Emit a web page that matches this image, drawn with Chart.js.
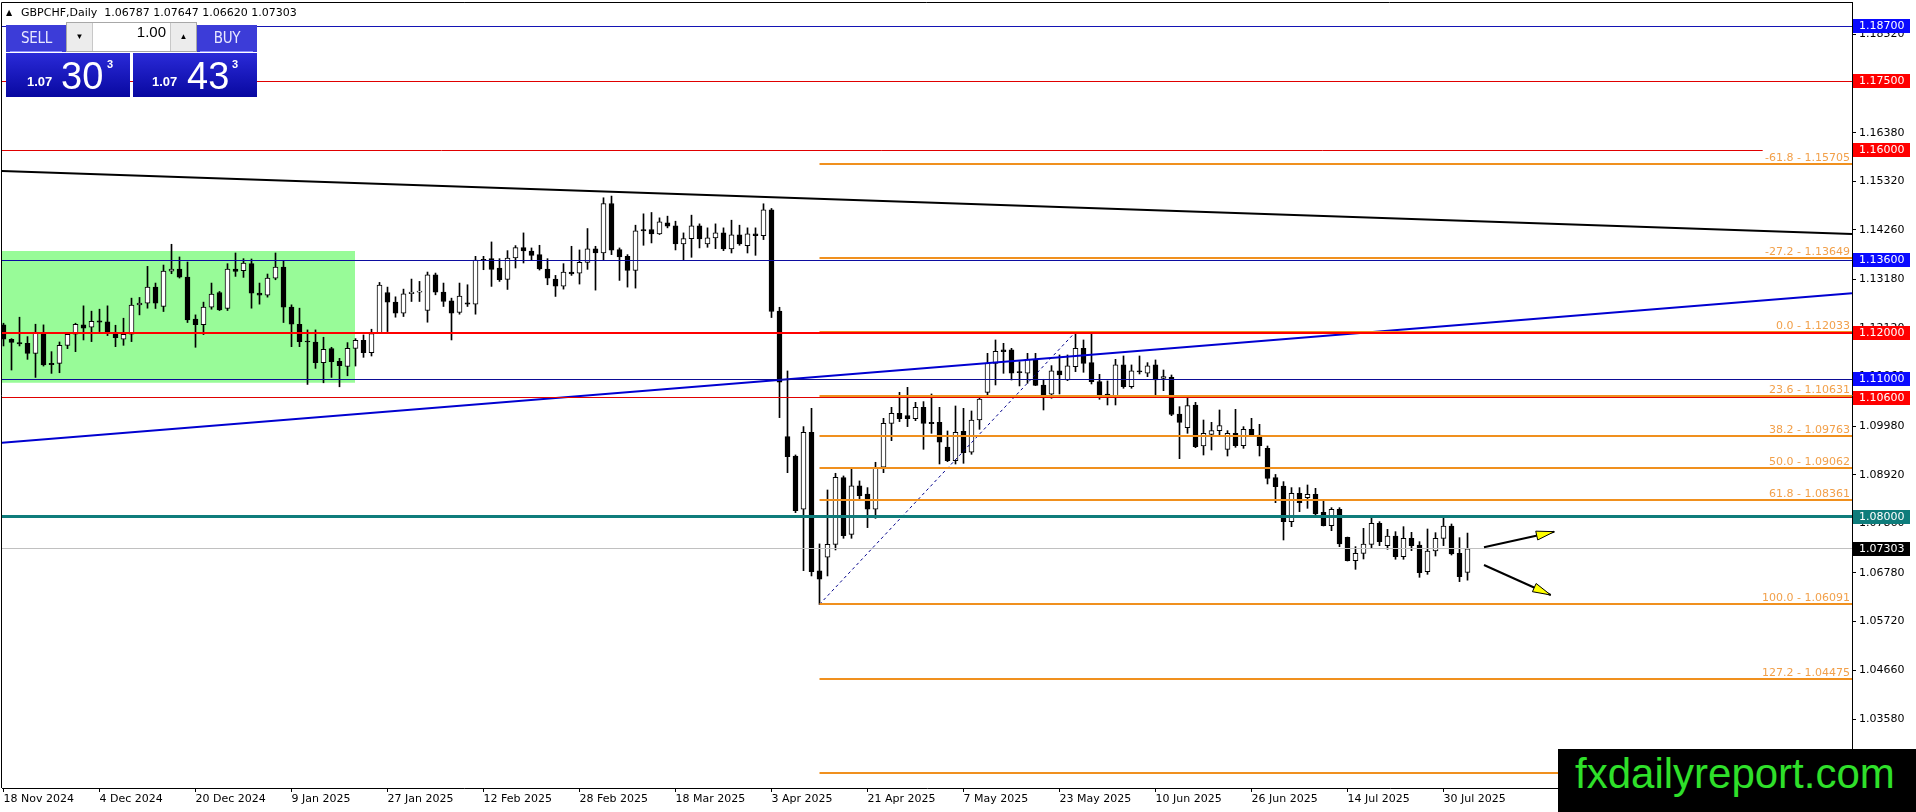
<!DOCTYPE html>
<html><head><meta charset="utf-8">
<script src="https://cdn.jsdelivr.net/npm/chart.js@4.4.1/dist/chart.umd.min.js"></script>
<style>
html,body{margin:0;padding:0;background:#fff;overflow:hidden;width:1916px;height:812px;}
#wrap{position:relative;width:1916px;height:812px;}
canvas{position:absolute;left:0;top:0;}
.abs{position:absolute;box-sizing:border-box;}
#hdr{left:6px;top:6px;font:11px "DejaVu Sans",sans-serif;line-height:13px;color:#000;white-space:pre;}
#hdr .tri{font-size:8px;display:inline-block;width:15px;vertical-align:1px;}
.topblue{background:#3c3cd8;color:#e8e8ff;font:15px "DejaVu Sans Condensed","DejaVu Sans",sans-serif;letter-spacing:-0.3px;text-align:center;line-height:27px;}
.uline{height:1px;background:#8c8cff;}
.botblue{background:linear-gradient(#2a2ad8,#0808a0);color:#fff;}
.small{position:absolute;font:bold 13px "Liberation Sans",sans-serif;}
.big{position:absolute;font:38px "Liberation Sans",sans-serif;line-height:38px;}
.sup{position:absolute;font:bold 11px "Liberation Sans",sans-serif;}
#ctrl{left:66px;top:22px;width:131px;height:30px;background:#fff;border:1px solid #a8a8a8;}
.btn{position:absolute;top:0;height:28px;width:25px;background:#ececec;border-right:1px solid #c8c8c8;font-size:8px;text-align:center;line-height:28px;color:#000;}
#qty{position:absolute;right:30px;top:0;line-height:28px;font:15px "Liberation Sans",sans-serif;color:#000;}
#wm{left:1558px;top:749px;width:358px;height:63px;background:#000;color:#2fe02a;font:42px "Liberation Sans",sans-serif;line-height:50px;padding-left:17px;white-space:nowrap;}
</style></head><body>
<div id="wrap">
<canvas id="c" width="1916" height="812"></canvas>
<div id="hdr" class="abs"><span class="tri">▲</span>GBPCHF,Daily  1.06787 1.07647 1.06620 1.07303</div>

<div class="abs topblue" style="left:6px;top:25px;width:61px;height:27px;">SELL</div>
<div class="abs uline" style="left:10px;top:51px;width:52px;"></div>
<div class="abs topblue" style="left:197px;top:25px;width:60px;height:27px;">BUY</div>
<div class="abs uline" style="left:200px;top:51px;width:53px;"></div>
<div id="ctrl" class="abs">
  <div class="btn" style="left:0;">▼</div>
  <div id="qty">1.00</div>
  <div class="btn" style="right:0;border-right:none;border-left:1px solid #c8c8c8;">▲</div>
</div>
<div class="abs botblue" style="left:6px;top:53px;width:124px;height:44px;">
  <span class="small" style="left:21px;top:21px;">1.07</span>
  <span class="big" style="left:55px;top:4px;">30</span>
  <span class="sup" style="left:101px;top:5px;">3</span>
</div>
<div class="abs botblue" style="left:133px;top:53px;width:124px;height:44px;">
  <span class="small" style="left:19px;top:21px;">1.07</span>
  <span class="big" style="left:54px;top:4px;">43</span>
  <span class="sup" style="left:99px;top:5px;">3</span>
</div>
<div id="wm" class="abs">fxdailyreport.com</div>
</div>
<script>
// ---------- DATA ----------
const xTickIdx = [0,12,24,36,48,60,72,84,96,108,120,132,144,156,168,180];
const xTickLabels = ["18 Nov 2024","4 Dec 2024","20 Dec 2024","9 Jan 2025","27 Jan 2025","12 Feb 2025","28 Feb 2025","18 Mar 2025","3 Apr 2025","21 Apr 2025","7 May 2025","23 May 2025","10 Jun 2025","26 Jun 2025","14 Jul 2025","30 Jul 2025"];
const yTicks = [1.18520,1.17460,1.16380,1.15320,1.14260,1.13180,1.12120,1.11060,1.09980,1.08920,1.07860,1.06780,1.05720,1.04660,1.03580,1.02520];

const opens = [1.12188,1.11874,1.11801,1.11786,1.11567,1.12005,1.11348,1.11348,1.11742,1.11983,
1.12188,1.12137,1.12275,1.12253,1.12020,1.11874,1.11983,1.12625,1.12662,1.13012,
1.12589,1.13362,1.13406,1.13231,1.12312,1.12195,1.12574,1.12895,1.12545,1.13406,
1.13369,1.13523,1.12881,1.12837,1.13209,1.13450,1.12574,1.12202,1.11837,1.11815,
1.11363,1.11670,1.11392,1.11283,1.11677,1.11852,1.11582,1.11998,1.12895,1.12684,
1.12443,1.12866,1.12903,1.12501,1.13282,1.12903,1.12713,1.12458,1.12669,1.12640,
1.13618,1.13632,1.13428,1.13180,1.13647,1.13873,1.13800,1.13720,1.13406,1.13187,
1.13034,1.13340,1.13318,1.13552,1.13844,1.13756,1.14836,1.13829,1.13683,1.13377,
1.14267,1.14267,1.14172,1.14413,1.14347,1.13953,1.14070,1.14347,1.13953,1.14085,
1.14194,1.13844,1.14150,1.13917,1.14172,1.14136,1.14697,1.12491,1.09750,1.09329,
1.08166,1.09845,1.06821,1.07119,1.07402,1.08857,1.07620,1.08675,1.08500,1.08166,
1.09082,1.10041,1.10259,1.10208,1.10143,1.10390,1.10063,1.10063,1.09525,1.09227,
1.09867,1.09409,1.10114,1.10717,1.11350,1.11641,1.11641,1.11168,1.11132,1.11437,
1.10877,1.10674,1.11183,1.10986,1.11277,1.11677,1.11364,1.10950,1.10681,1.10608,
1.11314,1.10841,1.11183,1.11132,1.11314,1.11022,1.11044,1.10244,1.09946,1.10441,
1.09546,1.09801,1.09881,1.09474,1.09823,1.09554,1.09910,1.09786,1.09495,1.08856,
1.08674,1.07896,1.08514,1.08420,1.08492,1.08100,1.07809,1.08165,1.07554,1.07045,
1.07206,1.07402,1.07860,1.07373,1.07584,1.07133,1.07533,1.07387,1.06806,1.07257,
1.07533,1.07802,1.07206,1.06787];
const highs = [1.12224,1.11888,1.12355,1.11932,1.12202,1.12188,1.11604,1.11815,1.12020,1.12224,
1.12603,1.12487,1.12530,1.12603,1.12180,1.12333,1.12771,1.12786,1.13464,1.13100,
1.13493,1.13946,1.13669,1.13559,1.12406,1.12684,1.13100,1.12917,1.13523,1.13756,
1.13632,1.13625,1.13100,1.13297,1.13756,1.13588,1.12625,1.12552,1.12078,1.12078,
1.11918,1.11699,1.11458,1.11801,1.11888,1.11969,1.12093,1.13114,1.13012,1.12800,
1.12968,1.13187,1.13136,1.13340,1.13318,1.13100,1.12771,1.13100,1.13063,1.13683,
1.13683,1.13997,1.13632,1.13807,1.13917,1.14194,1.13866,1.13924,1.13632,1.13267,
1.13523,1.13902,1.13822,1.14289,1.13902,1.14960,1.14997,1.13866,1.13720,1.14362,
1.14610,1.14639,1.14522,1.14559,1.14449,1.14194,1.14581,1.14391,1.14304,1.14391,
1.14304,1.14471,1.14362,1.14304,1.14304,1.14829,1.14727,1.12572,1.11183,1.09351,
1.09969,1.10368,1.07410,1.08587,1.08951,1.08893,1.09074,1.08784,1.08638,1.09191,
1.10150,1.10390,1.10717,1.10826,1.10499,1.10514,1.10681,1.10390,1.09874,1.10419,
1.10368,1.10310,1.10637,1.11568,1.11859,1.11786,1.11677,1.11386,1.11568,1.11568,
1.11001,1.11299,1.11532,1.11532,1.12033,1.11859,1.11990,1.11110,1.10965,1.11437,
1.11510,1.11314,1.11510,1.11364,1.11423,1.11204,1.11095,1.10404,1.10586,1.10499,
1.10113,1.10063,1.10332,1.09881,1.10346,1.09968,1.10150,1.10019,1.09546,1.08926,
1.08769,1.08638,1.08638,1.08696,1.08623,1.08369,1.08201,1.08201,1.07560,1.07351,
1.07751,1.08027,1.07896,1.07729,1.07678,1.07787,1.07663,1.07460,1.07736,1.07656,
1.07983,1.07845,1.07547,1.07647];
const lows = [1.11728,1.11203,1.11728,1.11436,1.11042,1.11290,1.11130,1.11144,1.11670,1.11604,
1.11859,1.11823,1.12042,1.11954,1.11713,1.11742,1.11823,1.12406,1.12552,1.12545,
1.12479,1.13304,1.13209,1.12239,1.11699,1.11976,1.12530,1.12501,1.12501,1.13245,
1.13224,1.12552,1.12640,1.12793,1.13172,1.12239,1.11713,1.11713,1.10889,1.11239,
1.10925,1.11042,1.10838,1.11078,1.11290,1.11480,1.11509,1.11998,1.12042,1.12355,
1.12370,1.12698,1.12698,1.12246,1.12844,1.12589,1.11859,1.12421,1.12589,1.12421,
1.13391,1.13027,1.13136,1.12961,1.13428,1.13538,1.13610,1.13384,1.13063,1.12808,
1.12968,1.13267,1.13078,1.13399,1.12946,1.13588,1.13720,1.13158,1.13012,1.12990,
1.13924,1.13975,1.14158,1.14304,1.13822,1.13610,1.13662,1.13866,1.13880,1.13851,
1.13807,1.13756,1.13924,1.13756,1.13705,1.14048,1.12348,1.10165,1.08965,1.08093,
1.06828,1.06712,1.06091,1.06712,1.07279,1.07533,1.07533,1.08369,1.07766,1.07969,
1.08965,1.09663,1.10078,1.09969,1.10099,1.09474,1.09823,1.09154,1.09205,1.09154,
1.09169,1.09365,1.09910,1.10623,1.10877,1.11132,1.10986,1.10856,1.10914,1.10863,
1.10332,1.10587,1.10681,1.10972,1.11168,1.11154,1.10899,1.10565,1.10441,1.10441,
1.10805,1.10805,1.11117,1.11059,1.10637,1.10753,1.10208,1.09270,1.09823,1.09510,
1.09350,1.09459,1.09786,1.09328,1.09517,1.09495,1.09764,1.09328,1.08718,1.08310,
1.07496,1.07787,1.08114,1.08187,1.07991,1.07802,1.07700,1.07351,1.07038,1.06856,
1.07082,1.07329,1.07373,1.07293,1.07075,1.07075,1.07264,1.06682,1.06747,1.07147,
1.07373,1.07169,1.06588,1.06620];
const closes = [1.11874,1.11808,1.11772,1.11567,1.12005,1.11312,1.11319,1.11742,1.11983,1.12202,
1.12115,1.12268,1.12246,1.12020,1.11910,1.11983,1.12618,1.12662,1.13012,1.12662,
1.13362,1.13406,1.13231,1.12297,1.12195,1.12574,1.12859,1.12516,1.13406,1.13355,
1.13537,1.12881,1.12837,1.13209,1.13450,1.12574,1.12202,1.11823,1.11815,1.11363,
1.11655,1.11385,1.11297,1.11677,1.11852,1.11582,1.11998,1.13056,1.12684,1.12443,
1.12866,1.12903,1.12910,1.13282,1.12903,1.12698,1.12443,1.12815,1.12640,1.13603,
1.13596,1.13399,1.13172,1.13647,1.13873,1.13800,1.13705,1.13406,1.13209,1.13034,
1.13340,1.13297,1.13552,1.13844,1.13756,1.14836,1.13815,1.13669,1.13377,1.14238,
1.14238,1.14172,1.14435,1.14340,1.13953,1.14070,1.14347,1.14063,1.14085,1.14194,
1.13844,1.14150,1.13953,1.14172,1.14136,1.14697,1.12480,1.10936,1.09314,1.08137,
1.09845,1.06806,1.06639,1.07402,1.08864,1.07591,1.08675,1.08464,1.08166,1.09082,
1.10041,1.10259,1.10143,1.10143,1.10390,1.10041,1.10034,1.09627,1.09227,1.09845,
1.09401,1.10114,1.10572,1.11350,1.11612,1.11604,1.11132,1.11146,1.11437,1.10870,
1.10659,1.11183,1.11096,1.11292,1.11677,1.11350,1.10950,1.10623,1.10601,1.11314,
1.10841,1.11183,1.11161,1.11292,1.10986,1.11058,1.10237,1.10063,1.10426,1.09532,
1.09823,1.09881,1.09990,1.09823,1.09554,1.09910,1.09786,1.09554,1.08841,1.08659,
1.07896,1.08514,1.08310,1.08492,1.08063,1.07809,1.08165,1.07409,1.07045,1.07206,
1.07409,1.07860,1.07460,1.07584,1.07133,1.07533,1.07373,1.06784,1.07257,1.07533,
1.07802,1.07191,1.06697,1.07303];

// horizontal levels (price) and axis markers
const hLevels = [1.18700,1.17500,1.16000,1.13600,1.12000,1.11000,1.10600,1.08000];
const bidPrice = 1.07303;
// fibonacci retracement (anchor bars and prices)
const fibAnchorIdx = [102,134];
const fibAnchorPrice = [1.06091,1.12033];
const fibNames = ["-61.8","-27.2","0.0","23.6","38.2","50.0","61.8","100.0","127.2","161.8"];
const fibLevels = [1.15705,1.13649,1.12033,1.10631,1.09763,1.09062,1.08361,1.06091,1.04475,1.02419];
// trend lines: [idx0, price0, idx1, price1]
const trendBlack = [-0.44,1.15544,231.06,1.14170];
const trendBlue = [-0.44,1.09612,231.06,1.12877];
// range box: [idx0, idx1, priceTop, priceBottom]
const rangeBox = [-2,43.94,1.13800,1.10927];
// arrows: [idxFrom, priceFrom, idxTo, priceTo]
const arrowUp = [185.06,1.07337,193.85,1.07678];
const arrowDown = [185.06,1.06951,193.40,1.06297];
const redLineEndIdx = 219.9;

// ---------- STYLE ----------
const hStyles = [
 {c:'#1414b4',w:1},{c:'#e00000',w:1},{c:'#e00000',w:1},{c:'#0c0ca0',w:1},
 {c:'#ff0000',w:2},{c:'#0c0c96',w:1},{c:'#e00000',w:1},{c:'#0e7c7b',w:3}];
const boxColors = ['#0a0aff','#ff0000','#ff0000','#0a0aff','#ff0000','#0a0aff','#ff0000','#0e7c7b'];
const FIB_LINE = '#f0901e', FIB_TEXT = '#f2a04a';
const X_MIN = -0.1875, X_MAX = X_MIN + 1850/8;
const Y_MIN = 1.02087, Y_MAX = 1.19230;

Chart.defaults.font.family = '"DejaVu Sans", sans-serif';
Chart.defaults.font.size = 11;
Chart.defaults.color = '#000';

const idx = opens.map((_, i) => i);
const wickData = idx.map(i => ({x: i, y: [lows[i], highs[i]]}));
const bodyData = idx.map(i => ({x: i, y: [opens[i], closes[i]]}));
const bodyColors = idx.map(i => closes[i] >= opens[i] ? '#ffffff' : '#000000');

function seg(x0, y0, x1, y1, color, width, extra) {
  return Object.assign({type:'line', data:[{x:x0,y:y0},{x:x1,y:y1}], borderColor:color, borderWidth:width,
    pointRadius:0, fill:false, tension:0, order:1}, extra || {});
}

const datasets = [];
const snapVals = [];   // horizontal datasets to pixel-snap
function addH(v, x0, x1, color, width, extra) {
  snapVals[datasets.length] = {v, w: width};
  datasets.push(seg(x0, v, x1, v, color, width, extra));
}
hLevels.forEach((v, i) => {
  const end = (v === 1.16000) ? redLineEndIdx : X_MAX + 5;
  addH(v, X_MIN - 5, end, hStyles[i].c, hStyles[i].w);
});
addH(bidPrice, X_MIN - 5, X_MAX + 5, '#c0c0c0', 1, {order:3});
fibLevels.forEach(v => addH(v, fibAnchorIdx[0], X_MAX + 5, FIB_LINE, 2));
datasets.push(seg(fibAnchorIdx[0], fibAnchorPrice[0], fibAnchorIdx[1], fibAnchorPrice[1], '#00008b', 1, {borderDash:[3,3]}));
datasets.push(seg(trendBlack[0], trendBlack[1], trendBlack[2], trendBlack[3], '#000000', 2));
datasets.push(seg(trendBlue[0], trendBlue[1], trendBlue[2], trendBlue[3], '#0000d0', 2));
datasets.push({type:'line', data:[{x:rangeBox[0],y:rangeBox[2]},{x:rangeBox[1],y:rangeBox[2]}],
  borderWidth:0, borderColor:'rgba(0,0,0,0)', pointRadius:0, backgroundColor:'#98fb98',
  fill:{value:rangeBox[3]}, order:20});
datasets.push({type:'bar', data:bodyData, backgroundColor:bodyColors, borderColor:'#000', borderWidth:1,
  borderSkipped:false, barThickness:5, grouped:false, minBarLength:1, order:5});
datasets.push({type:'bar', data:wickData, backgroundColor:'#000', borderWidth:0,
  barThickness:1, grouped:false, order:6});

const snap = {
  id:'snap',
  beforeDatasetDraw(chart, args) {
    const s = snapVals[args.index];
    if (!s) return;
    const py = chart.scales.y.getPixelForValue(s.v);
    const target = (s.w % 2 === 1) ? Math.floor(py) + 0.5 : Math.round(py);
    chart.ctx.save();
    chart.ctx.translate(0, target - py);
  },
  afterDatasetDraw(chart, args) {
    if (snapVals[args.index]) chart.ctx.restore();
  }
};

const overlay = {
  id:'overlay',
  afterDraw(chart) {
    const {ctx, chartArea:a, scales:{x, y}} = chart;
    ctx.save();
    ctx.strokeStyle = '#000'; ctx.lineWidth = 1;
    ctx.beginPath(); ctx.moveTo(1.5, a.bottom); ctx.lineTo(1.5, 2.5); ctx.lineTo(a.right, 2.5); ctx.stroke();
    ctx.font = '11px "DejaVu Sans"'; ctx.textAlign = 'right'; ctx.textBaseline = 'alphabetic';
    ctx.fillStyle = FIB_TEXT;
    fibLevels.forEach((v, i) => {
      const py = Math.round(y.getPixelForValue(v));
      ctx.fillText(fibNames[i] + ' - ' + v.toFixed(5), a.right - 2, py - 3);
    });
    [arrowUp, arrowDown].forEach(ar => {
      const x0 = x.getPixelForValue(ar[0]), y0 = y.getPixelForValue(ar[1]);
      const x1 = x.getPixelForValue(ar[2]), y1 = y.getPixelForValue(ar[3]);
      ctx.strokeStyle = '#000'; ctx.lineWidth = 2;
      ctx.beginPath(); ctx.moveTo(x0, y0); ctx.lineTo(x1, y1); ctx.stroke();
      const ang = Math.atan2(y1 - y0, x1 - x0), L = 18, W = 4.5;
      const bx = x1 - L * Math.cos(ang), by = y1 - L * Math.sin(ang);
      ctx.beginPath();
      ctx.moveTo(x1, y1);
      ctx.lineTo(bx + W * Math.sin(ang), by - W * Math.cos(ang));
      ctx.lineTo(bx - W * Math.sin(ang), by + W * Math.cos(ang));
      ctx.closePath();
      ctx.fillStyle = '#ffff00'; ctx.fill();
      ctx.lineWidth = 1; ctx.stroke();
    });
    ctx.textAlign = 'left'; ctx.textBaseline = 'middle'; ctx.font = '11px "DejaVu Sans"';
    const marks = hLevels.map((v, i) => [v, boxColors[i]]).concat([[bidPrice, '#000000']]);
    marks.forEach(m => {
      const py = Math.round(y.getPixelForValue(m[0]));
      ctx.fillStyle = m[1];
      ctx.fillRect(a.right + 1, py - 7, 57, 14);
      ctx.fillStyle = '#fff';
      ctx.fillText(m[0].toFixed(5), a.right + 7, py + 0.5);
    });
    ctx.restore();
  }
};

new Chart(document.getElementById('c'), {
  type:'bar',
  data:{datasets},
  plugins:[snap, overlay],
  options:{
    responsive:false, animation:false, devicePixelRatio:1,
    layout:{padding:{top:2, left:2, right:0, bottom:0}},
    plugins:{legend:{display:false}, tooltip:{enabled:false}},
    scales:{
      x:{type:'linear', min:X_MIN, max:X_MAX, offset:false, bounds:'data',
        grid:{drawOnChartArea:false, drawTicks:true, tickLength:4, color:'#000', offset:false},
        border:{display:true, color:'#000'},
        ticks:{align:'start', autoSkip:false, maxRotation:0, padding:1, color:'#000',
          callback:(v) => { const k = xTickIdx.indexOf(v); return k >= 0 ? xTickLabels[k] : ''; }},
        afterBuildTicks:(s) => { s.ticks = xTickIdx.map(v => ({value:v})); },
        afterFit:(s) => { s.height = 24; s.paddingLeft = 0; s.paddingRight = 0; }
      },
      y:{type:'linear', position:'right', min:Y_MIN, max:Y_MAX, bounds:'data',
        grid:{drawOnChartArea:false, drawTicks:true, tickLength:4, color:'#000'},
        border:{display:true, color:'#000'},
        ticks:{padding:3, autoSkip:false, color:'#000', callback:(v) => Number(v).toFixed(5)},
        afterBuildTicks:(s) => { s.ticks = yTicks.map(v => ({value:v})); },
        afterFit:(s) => { s.width = 64; s.paddingTop = 0; s.paddingBottom = 0; }
      }
    }
  }
});
</script>
</body></html>
